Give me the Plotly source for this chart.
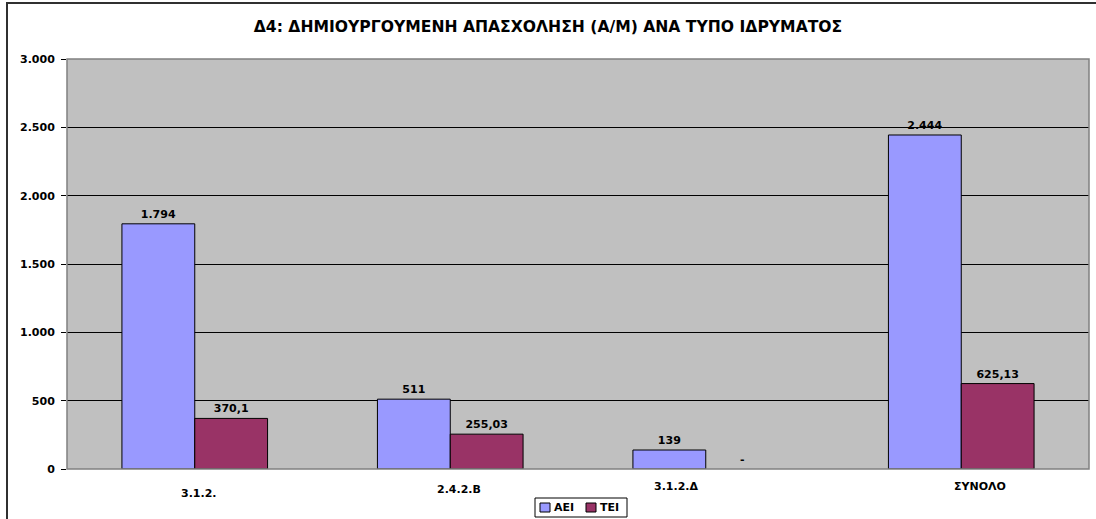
import plotly.graph_objects as go

# Data
categories = ["3.1.2.", "2.4.2.Β", "3.1.2.Δ", "ΣΥΝΟΛΟ"]
series_names = ["ΑΕΙ", "ΤΕΙ"]
aei_values = [1794, 511, 139, 2444]
tei_values = [370.1, 255.03, 0, 625.13]
aei_labels = ["1.794", "511", "139", "2.444"]
tei_labels = ["370,1", "255,03", "-", "625,13"]
y_ticks = [0, 500, 1000, 1500, 2000, 2500, 3000]

title_text = "Δ4: ΔΗΜΙΟΥΡΓΟΥΜΕΝΗ ΑΠΑΣΧΟΛΗΣΗ (Α/Μ) ΑΝΑ ΤΥΠΟ ΙΔΡΥΜΑΤΟΣ"

FONT = "DejaVu Sans, Liberation Sans, Arial, sans-serif"
colors = ["#9999FF", "#993366"]

# plot area in page pixels: left 67, right 1089, top 59, bottom 469
def px(x):
    return (x - 67) / 1022.0

def py(y):
    return (469 - y) / 410.0

fig = go.Figure()
for name, vals, labels, col in zip(series_names, [aei_values, tei_values],
                                   [aei_labels, tei_labels], colors):
    fig.add_trace(go.Bar(
        x=categories, y=vals, name=name,
        text=labels, textposition="outside",
        marker=dict(color=col,
                    line=dict(color="black", width=[1 if v else 0 for v in vals])),
        textfont=dict(family=FONT, size=11, color="black", weight="bold"),
        cliponaxis=False,
        showlegend=False,
    ))

shapes = [
    # outer chart border (top/left visible in reference)
    dict(type="rect", xref="paper", yref="paper",
         x0=px(7), x1=1.05, y0=-0.3, y1=py(3),
         line=dict(color="#303030", width=2), layer="below"),
    # plot area frame
    dict(type="rect", xref="paper", yref="paper",
         x0=0, x1=1, y0=0, y1=1,
         line=dict(color="#808080", width=1.5), layer="above"),
    # legend box
    dict(type="rect", xref="paper", yref="paper",
         x0=px(535), x1=px(627), y0=py(517), y1=py(498),
         line=dict(color="black", width=1), fillcolor="white"),
]
annotations = []

# legend entries, drawn by hand like the Excel one
sq_x = [540, 586]
txt_x = [552, 598]
for name, col, sx, tx in zip(series_names, colors, sq_x, txt_x):
    shapes.append(dict(type="rect", xref="paper", yref="paper",
                       x0=px(sx), x1=px(sx + 10), y0=py(512), y1=py(503),
                       line=dict(color="black", width=1), fillcolor=col))
    annotations.append(dict(text=name, xref="paper", yref="paper",
                            x=px(tx), y=py(507.5), xanchor="left", yanchor="middle",
                            showarrow=False,
                            font=dict(family=FONT, size=11, color="black", weight="bold")))

# category labels sit a bit off-centre in the original, so place them as annotations
lab_dx = [4, 9, -30, 19]
lab_y = [493, 489, 486, 486]
for cat, dx, ly in zip(categories, lab_dx, lab_y):
    annotations.append(dict(text=cat, xref="x", yref="paper", x=cat, xshift=dx,
                            y=py(ly), xanchor="center", yanchor="middle",
                            showarrow=False,
                            font=dict(family=FONT, size=11, color="black", weight="bold")))

fig.update_layout(
    width=1096, height=519,
    margin=dict(l=67, r=7, t=59, b=50),
    barmode="group",
    bargap=0.43,
    bargroupgap=0,
    separators=",.",
    plot_bgcolor="#C0C0C0",
    paper_bgcolor="white",
    font=dict(family=FONT, size=11, color="black", weight="bold"),
    title=dict(text=title_text, x=0.5, xanchor="center",
               yref="container", y=1 - 27 / 519, yanchor="middle",
               font=dict(family=FONT, size=15.6, color="black", weight="bold")),
    showlegend=False,
    shapes=shapes,
    annotations=annotations,
)

fig.update_xaxes(showgrid=False, showline=False, ticks="", showticklabels=False)
fig.update_yaxes(
    range=[0, 3000], tickvals=y_ticks, tickformat=",d",
    showgrid=True, gridcolor="black", gridwidth=1,
    showline=False, zeroline=False,
    ticks="outside", ticklen=5, tickcolor="black",
    tickfont=dict(family=FONT, size=11, color="black", weight="bold"),
    ticklabelstandoff=4,
)

fig.write_html("out.html", config={"displayModeBar": False},
               post_script="document.body.style.margin='0px';")
